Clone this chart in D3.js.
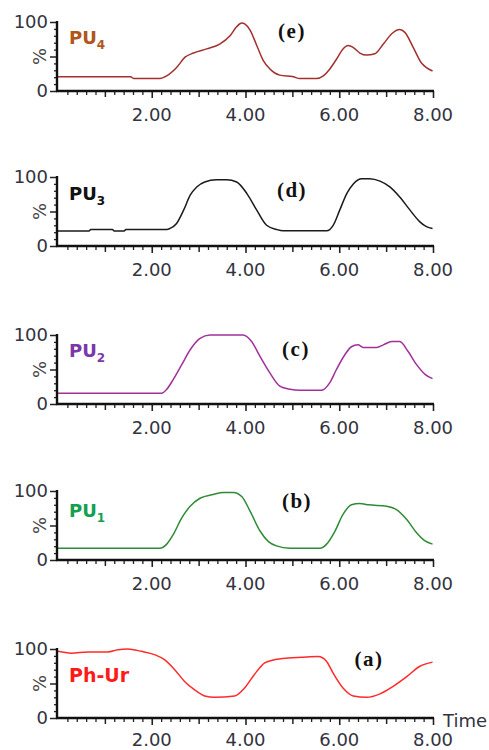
<!DOCTYPE html>
<html>
<head>
<meta charset="utf-8">
<script src="https://cdn.jsdelivr.net/npm/d3@7"></script>
<style>
  html, body { margin: 0; padding: 0; background: #fff; }
  svg { display: block; }
</style>
</head>
<body>
<script>
// ---- Data (time in min, response in %) ----
const pu4T = [0, 1.55, 1.62, 2.17, 2.32, 2.53, 2.71, 2.89, 3.17, 3.45, 3.67, 3.81, 3.92, 3.99, 4.1, 4.24, 4.38, 4.52, 4.73, 5.02, 5.16, 5.51, 5.66, 5.8, 5.94, 6.08, 6.19, 6.3, 6.44, 6.58, 6.76, 6.94, 7.12, 7.29, 7.4, 7.58, 7.75, 7.86, 7.99];
const pu4V = [20.5, 20.5, 18, 18, 22, 34, 49, 55, 61, 68, 80, 93, 98.5, 97, 88, 66, 44, 32, 23, 20.5, 18, 18, 22, 32, 46, 61, 66, 63, 55, 52, 54, 68, 83, 89, 85, 63, 41, 34, 29];

const pu3T = [0, 0.66, 0.7, 1.16, 1.2, 1.41, 1.45, 2.32, 2.39, 2.53, 2.68, 2.82, 2.96, 3.13, 3.38, 3.6, 3.81, 4.03, 4.24, 4.45, 4.66, 4.8, 5.73, 5.87, 6.01, 6.16, 6.3, 6.48, 6.65, 6.87, 7.08, 7.29, 7.51, 7.72, 7.86, 7.99];
const pu3V = [21.6, 21.6, 24, 24, 21.6, 21.6, 24, 24, 25.5, 32.7, 52, 73.6, 85.6, 92.8, 96, 96, 92.8, 76, 52, 30, 24, 22, 22, 30, 52, 76, 90, 97.6, 97.6, 94, 85.6, 71, 52, 35, 28, 25.5];

const pu2T = [0, 2.21, 2.32, 2.46, 2.64, 2.82, 3.03, 3.24, 3.95, 4.13, 4.31, 4.52, 4.73, 4.95, 5.16, 5.62, 5.8, 5.94, 6.12, 6.26, 6.4, 6.51, 6.8, 6.94, 7.12, 7.29, 7.47, 7.65, 7.83, 7.99];
const pu2V = [15.7, 15.7, 21.4, 35.7, 57, 78.6, 95, 100, 100, 90.5, 69, 45, 26, 21.4, 20, 20, 31, 50, 71.4, 83, 85.7, 82, 82, 85.7, 90.5, 90.5, 76, 57, 43, 36.7];

const pu1T = [0, 2.17, 2.32, 2.46, 2.64, 2.82, 3.03, 3.31, 3.53, 3.74, 3.92, 4.1, 4.31, 4.49, 4.66, 4.95, 5.59, 5.73, 5.91, 6.08, 6.26, 6.44, 6.62, 7.01, 7.22, 7.44, 7.65, 7.83, 7.99];
const pu1V = [17, 17, 23, 37, 61, 78, 89.5, 95, 98, 98, 92, 70.5, 42, 26.7, 20.5, 17, 17, 23, 42, 66, 80, 82, 80, 78, 73, 58.6, 39.5, 27.6, 23];

const phUrT = [0, 0.28, 0.64, 1.06, 1.28, 1.49, 1.78, 2.06, 2.27, 2.49, 2.7, 2.91, 3.13, 3.34, 3.77, 3.98, 4.19, 4.41, 4.62, 4.91, 5.2, 5.55, 5.73, 5.87, 6.08, 6.3, 6.58, 6.87, 7.15, 7.44, 7.72, 7.99];
const phUrV = [96.6, 94, 95.7, 95.7, 99, 100, 96.6, 91.8, 84.5, 70, 53, 41, 32, 30, 32, 43.5, 63, 80, 84.5, 87, 88, 89, 82, 65, 43.5, 32, 30, 35, 45.9, 60, 75, 81];

const panelNames = ["PU", "PU", "PU", "PU", "Ph-Ur"];
const panelSubs = ["4", "3", "2", "1", ""];
const panelTags = ["(e)", "(d)", "(c)", "(b)", "(a)"];
const xMajorTicks = [2, 4, 6, 8];
const yLabelTicks = [0, 100];
const xTitle = "Time";
const yTitle = "%";

// ---- Layout / style ----
const W = 489, H = 750;
const panelTops = [22, 177, 335, 491, 649];
const panelH = 69;
const x0 = 58, x1 = 433;
const lineColors = ["#a2302e", "#1a1a1a", "#a0309a", "#2e8b34", "#ff2a2a"];
const labelColors = ["#b0561a", "#111111", "#7a38a8", "#12a050", "#ff1a1a"];
const labelDy = [22, 23, 22, 26, 33];
const labelOff = [30, 30, 30, 30, 28];
const tagPos = [[292, 38], [292, 197], [296, 356], [297, 508], [369, 666]];
const series = [[pu4T, pu4V], [pu3T, pu3V], [pu2T, pu2V], [pu1T, pu1V], [phUrT, phUrV]];

const svg = d3.select("body").append("svg").attr("width", W).attr("height", H);
const x = d3.scaleLinear().domain([0, 8]).range([x0, x1]);
const textColor = "#333340";

series.forEach((s, i) => {
  const top = panelTops[i];
  const y = d3.scaleLinear().domain([0, 100]).range([top + panelH, top]);
  const g = svg.append("g");
  const base = y(0);

  // line
  const pts = s[0].map((t, k) => [t, s[1][k]]);
  const line = d3.line().x(d => x(d[0])).y(d => y(d[1])).curve(d3.curveMonotoneX);
  g.append("path").datum(pts).attr("d", line)
    .attr("fill", "none").attr("stroke", lineColors[i]).attr("stroke-width", 1.5)
    .attr("stroke-linejoin", "round");

  // x minor ticks
  const minor = d3.range(1, 41).map(k => k * 0.2);
  g.append("g").attr("transform", `translate(0,${base})`)
    .call(d3.axisBottom(x).tickValues(minor.filter(v => Math.abs(v - Math.round(v)) > 0.01))
      .tickSize(4).tickFormat("").tickSizeOuter(0))
    .call(a => a.select(".domain").remove())
    .call(a => a.selectAll("line").attr("stroke", "#222").attr("stroke-width", 1.3));
  g.append("g").attr("transform", `translate(0,${base})`)
    .call(d3.axisBottom(x).tickValues([1, 3, 5, 7]).tickSize(6).tickFormat("").tickSizeOuter(0))
    .call(a => a.select(".domain").remove())
    .call(a => a.selectAll("line").attr("stroke", "#222").attr("stroke-width", 1.5));
  g.append("g").attr("transform", `translate(0,${base})`)
    .call(d3.axisBottom(x).tickValues(xMajorTicks).tickSize(7).tickFormat("").tickSizeOuter(0))
    .call(a => a.select(".domain").remove())
    .call(a => a.selectAll("line").attr("stroke", "#222").attr("stroke-width", 1.6));

  // x tick labels
  g.selectAll("text.xl").data(xMajorTicks).enter().append("text")
    .attr("x", d => x(d)).attr("y", base + labelOff[i])
    .attr("text-anchor", "middle")
    .attr("font-family", "DejaVu Sans").attr("font-size", 18)
    .attr("fill", textColor).text(d => d.toFixed(2));

  // y minor/major ticks
  g.append("g").attr("transform", `translate(${x0 - 1},0)`)
    .call(d3.axisLeft(y).tickValues(d3.range(10, 100, 10).filter(v => v !== 50)).tickSize(3).tickFormat("").tickSizeOuter(0))
    .call(a => a.select(".domain").remove())
    .call(a => a.selectAll("line").attr("stroke", "#222").attr("stroke-width", 1.3));
  g.append("g").attr("transform", `translate(${x0 - 1},0)`)
    .call(d3.axisLeft(y).tickValues([0, 50, 100]).tickSize(7).tickFormat("").tickSizeOuter(0))
    .call(a => a.select(".domain").remove())
    .call(a => a.selectAll("line").attr("stroke", "#222").attr("stroke-width", 1.5));

  // axis lines
  g.append("line").attr("x1", x0 - 1).attr("x2", x0 - 1).attr("y1", y(100) - 1).attr("y2", base + 1)
    .attr("stroke", "#111").attr("stroke-width", 2.4);
  g.append("line").attr("x1", x0 - 2).attr("x2", x1 + 1).attr("y1", base).attr("y2", base)
    .attr("stroke", "#111").attr("stroke-width", 2.4);

  // y labels
  g.selectAll("text.yl").data(yLabelTicks).enter().append("text")
    .attr("x", 48).attr("y", d => y(d)).attr("dy", "0.36em")
    .attr("text-anchor", "end")
    .attr("font-family", "DejaVu Sans").attr("font-size", 18)
    .attr("fill", textColor).text(d => d);
  g.append("text")
    .attr("transform", `translate(46,${y(50)}) rotate(-90)`)
    .attr("text-anchor", "middle")
    .attr("font-family", "DejaVu Sans").attr("font-size", 18)
    .attr("fill", "#444").text(yTitle);

  // series label
  const lab = g.append("text")
    .attr("x", 69).attr("y", top + labelDy[i])
    .attr("font-family", "DejaVu Sans").attr("font-weight", "bold")
    .attr("font-size", i === 4 ? 19 : 18)
    .attr("fill", labelColors[i]);
  lab.append("tspan").text(panelNames[i]);
  if (panelSubs[i]) {
    lab.append("tspan").attr("font-size", 12).attr("dy", 5).text(panelSubs[i]);
  }

  // tag
  g.append("text")
    .attr("x", tagPos[i][0]).attr("y", tagPos[i][1])
    .attr("text-anchor", "middle")
    .attr("font-family", "Liberation Serif").attr("font-weight", "bold")
    .attr("font-size", 21).attr("letter-spacing", 1.5)
    .attr("fill", "#111").text(panelTags[i]);

  if (i === 4) {
    g.append("text").attr("x", 443).attr("y", 727)
      .attr("font-family", "DejaVu Sans").attr("font-size", 18)
      .attr("fill", textColor).text(xTitle);
  }
});
</script>
</body>
</html>
